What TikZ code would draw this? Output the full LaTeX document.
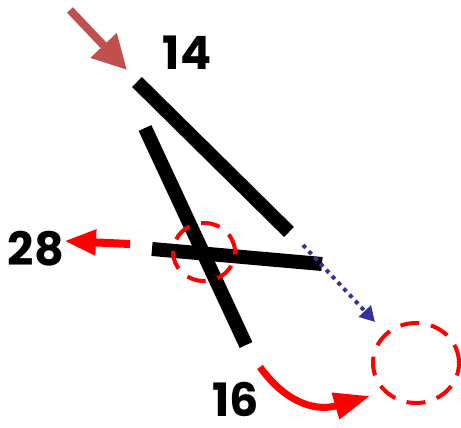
\documentclass[tikz,border=0pt]{standalone}
\usepackage{fontspec}
\setmainfont{Poppins}
\usepackage{xcolor}
\usetikzlibrary{arrows.meta, shapes.geometric, positioning, calc}

\definecolor{brownred}{HTML}{C0504D}
\definecolor{dotblue}{HTML}{333399}

\begin{document}
\begin{tikzpicture}[
      x=1pt, y=-1pt,
      strand/.style={line width=14pt, line cap=butt, black},
      mark circle/.style={draw=red, line width=4pt, dash pattern=on 19pt off 12pt},
      num/.style={font=\fontsize{46}{46}\selectfont\bfseries, inner sep=0pt},
      >=latex
    ]
    \useasboundingbox (0,0) rectangle (461,428);

    % Strand end points
    \coordinate (a1) at (137,82);
    \coordinate (a2) at (289,232);
    \coordinate (b1) at (145,128);
    \coordinate (b2) at (246,345);
    \coordinate (c1) at (152,249);
    \coordinate (c2) at (322,264);

    % Strands
    \draw[strand] (a1) -- (a2);
    \draw[strand] (b1) -- (b2);
    \draw[strand] (c1) -- (c2);

    % Crossing and target circles
    \node[mark circle, ellipse, minimum width=62pt, minimum height=58pt, inner sep=0pt] (cross) at (204,252) {};
    \node[mark circle, ellipse, minimum width=86pt, minimum height=80pt, inner sep=0pt] (target) at (416,363) {};

    % Labels
    \node[num] (n14) at (187,53) {14};
    \node[num] (n28) at (36,249) {28};
    \node[num] (n16) at (236,399) {16};

    % Arrows
    \coordinate (in0) at (70,10);
    \coordinate (in1) at (127,70);
    \draw[brownred, line width=8pt, -{Triangle[length=34pt, width=34pt]}] (in0) -- (in1);

    \coordinate (out0) at (130,244);
    \coordinate (out1) at (64,241);
    \draw[red, line width=8pt, -{Triangle[length=32pt, width=24pt]}] (out0) -- (out1);

    \coordinate (mv0) at (303,245);
    \coordinate (mv1) at (375,322);
    \draw[dotblue, line width=4pt, dash pattern=on 4pt off 4.5pt, -{Triangle[length=15pt, width=16pt]}] (mv0) -- (mv1);

    \coordinate (sw0) at (260,367);
    \coordinate (sw1) at (370,396);
    \draw[red, line width=7pt, -{Triangle[length=36pt, width=26pt]}]
      (sw0) .. controls (285,402) and (315,412) .. (sw1);
  \end{tikzpicture}
\end{document}
